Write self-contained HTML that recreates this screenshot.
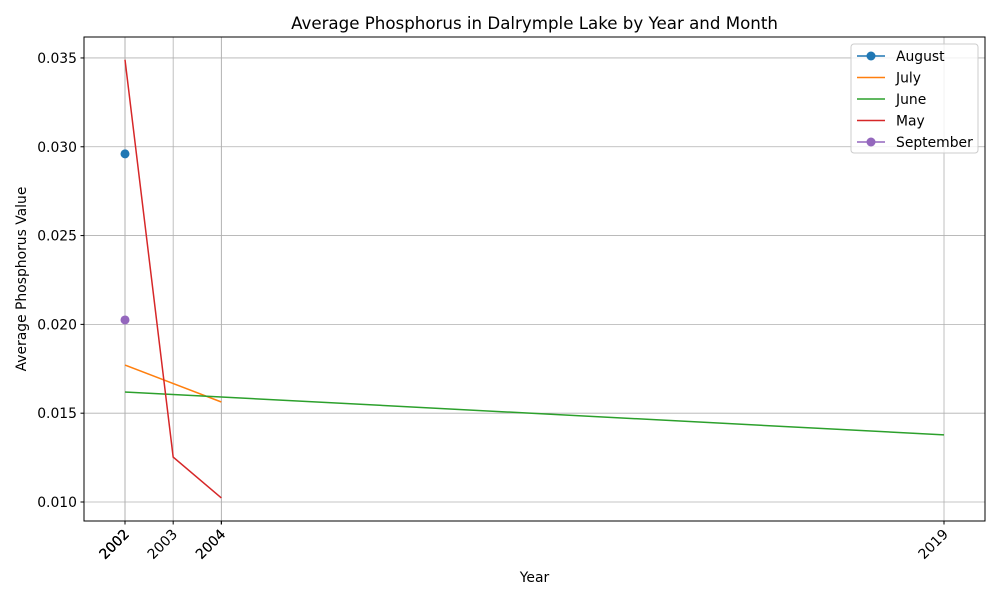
<!DOCTYPE html>
<html><head><meta charset="utf-8"><style>
body{margin:0;background:#fff;font-family:"DejaVu Sans",sans-serif}
svg text{font-family:"DejaVu Sans","Liberation Sans",sans-serif}
</style></head><body>
<svg id="chart" width="1000" height="600" viewBox="0 0 1000 600" xmlns="http://www.w3.org/2000/svg">
<rect width="1000" height="600" fill="#fff"/>
<text x="534.5" y="29" font-size="16.67" text-anchor="middle">Average Phosphorus in Dalrymple Lake by Year and Month</text>
<g id="grid"></g><g id="series"></g><g id="axes"></g>
<text x="534.5" y="582" font-size="13.9" text-anchor="middle">Year</text>
<text transform="translate(26,279) rotate(-90)" font-size="13.9" text-anchor="middle">Average Phosphorus Value</text>
<g id="legend"></g>
</svg>
<script>
const xTicks=[2002,2002,2002,2002,2002,2003,2004,2004,2019];
const yTicks=[0.010,0.015,0.020,0.025,0.030,0.035];
const seriesNames=["August","July","June","May","September"];
const seriesColors=["#1f77b4","#ff7f0e","#2ca02c","#d62728","#9467bd"];
const augustYears=[2002];const augustVals=[0.0296];
const julyYears=[2002,2004];const julyVals=[0.01771,0.01563];
const juneYears=[2002,2004,2019];const juneVals=[0.01619,0.01591,0.01378];
const mayYears=[2002,2003,2004];const mayVals=[0.0349,0.01253,0.01023];
const septYears=[2002];const septVals=[0.02025];
const L=84,R=985,T=37,B=521;
const x0=2001.149,x1=2019.851,y0=0.00893,y1=0.03618;
const X=v=>L+(v-x0)/(x1-x0)*(R-L);
const Y=v=>B-(v-y0)/(y1-y0)*(B-T);
const NS="http://www.w3.org/2000/svg";
function mk(p,t,a){const e=document.createElementNS(NS,t);for(const k in a)e.setAttribute(k,a[k]);p.appendChild(e);return e;}
const grid=document.getElementById('grid'),axes=document.getElementById('axes'),ser=document.getElementById('series'),leg=document.getElementById('legend');
yTicks.forEach(v=>{const y=Y(v);
const g=mk(grid,'line',{x1:L,x2:R,y1:y,y2:y,stroke:'#b0b0b0','stroke-width':0.8});

mk(axes,'line',{x1:L-3.5,x2:L,y1:y,y2:y,stroke:'#000'});
const t=mk(axes,'text',{x:L-7,y:y+5,'font-size':13.9,'text-anchor':'end'});t.textContent=v.toFixed(3);
});
xTicks.forEach(v=>{const x=X(v);
const g=mk(grid,'line',{x1:x,x2:x,y1:T,y2:B,stroke:'#b0b0b0','stroke-width':0.8});

mk(axes,'line',{x1:x,x2:x,y1:B,y2:B+3.5,stroke:'#000'});
const t=mk(axes,'text',{x:0,y:0,'font-size':13.9,'text-anchor':'end',transform:`translate(${x+5},${B+14}) rotate(-45)`});t.textContent=v;
});
const f=mk(axes,'rect',{x:L,y:T,width:R-L,height:B-T,fill:'none',stroke:'#000','stroke-width':1});

const data=[[augustYears,augustVals],[julyYears,julyVals],[juneYears,juneVals],[mayYears,mayVals],[septYears,septVals]];
data.forEach((d,i)=>{const pts=d[0].map((yr,j)=>[X(yr),Y(d[1][j])]);
const pl=mk(ser,'polyline',{points:pts.map(p=>p.join(',')).join(' '),fill:'none',stroke:seriesColors[i],'stroke-width':1.5});

if(pts.length===1){pts.forEach(p=>{const c=mk(ser,'circle',{cx:p[0],cy:p[1],r:4.5,fill:seriesColors[i]});
});}});
const lb=mk(leg,'rect',{x:851,y:44,width:127,height:109,rx:3,fill:'#fff','fill-opacity':0.8,stroke:'#ccc'});

seriesNames.forEach((n,i)=>{const y=56+i*21.5;
const l=mk(leg,'line',{x1:857,x2:885,y1:y,y2:y,stroke:seriesColors[i],'stroke-width':1.5});

if(i===0||i===4){mk(leg,'circle',{cx:871,cy:y,r:4.5,fill:seriesColors[i]});}
const t=mk(leg,'text',{x:896,y:y+5,'font-size':13.9});t.textContent=n;
});
</script>
</body></html>
